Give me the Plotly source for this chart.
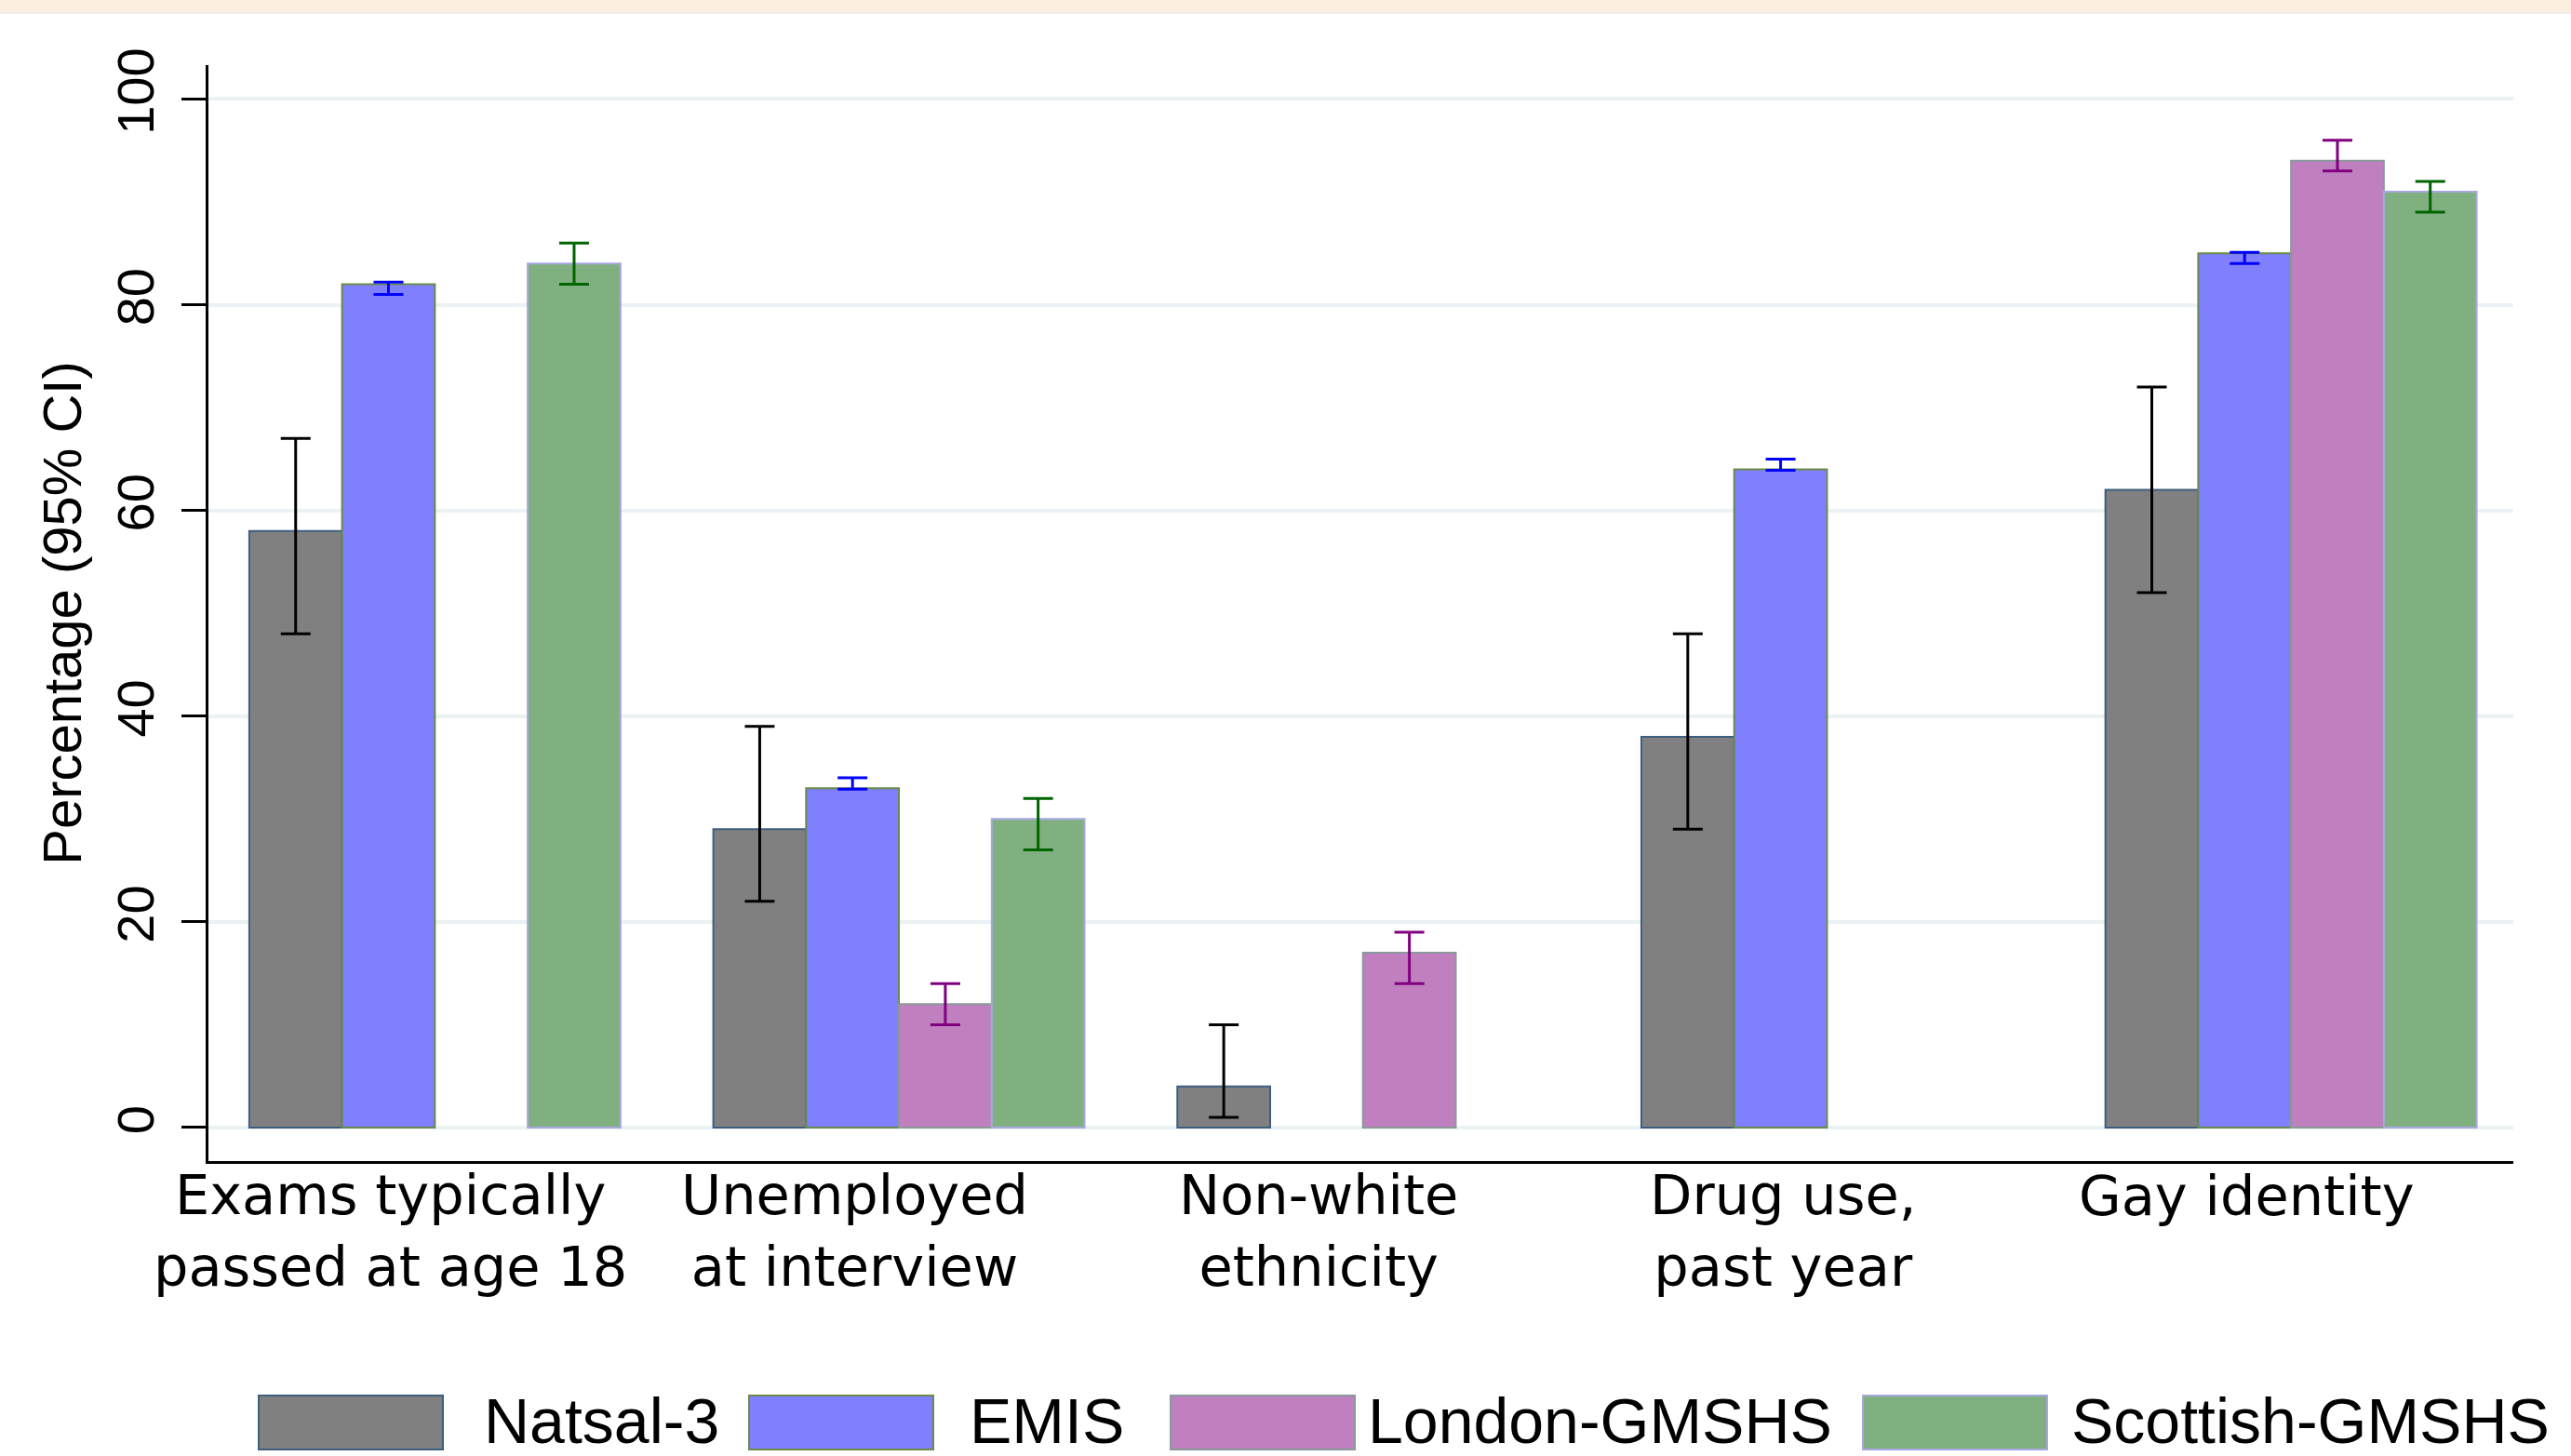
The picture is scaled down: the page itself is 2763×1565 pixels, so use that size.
import plotly.graph_objects as go

# ---------------- data ----------------
cat_line1 = ["Exams typically", "Unemployed", "Non-white", "Drug use,", "Gay identity"]
cat_line2 = ["passed at age 18", "at interview", "ethnicity", "past year", ""]
categories = [(a + " " + b).strip() for a, b in zip(cat_line1, cat_line2)]

series_names = ["Natsal-3", "EMIS", "London-GMSHS", "Scottish-GMSHS"]

natsal = [58, 29, 4, 38, 62]
natsal_lo = [48, 22, 1, 29, 52]
natsal_hi = [67, 39, 10, 48, 72]

emis = [82, 33, None, 64, 85]
emis_lo = [81, 32.9, None, 63.9, 84]
emis_hi = [82.2, 34, None, 65, 85.1]

london = [None, 12, 17, None, 94]
london_lo = [None, 10, 14, None, 93]
london_hi = [None, 14, 19, None, 96]

scottish = [84, 30, None, None, 91]
scottish_lo = [82, 27, None, None, 89]
scottish_hi = [86, 32, None, None, 92]

y_ticks = [0, 20, 40, 60, 80, 100]

# ---------------- styles ----------------
fills = ["#808080", "#8080FF", "#C080C0", "#80B080"]
outlines = ["#3E5E80", "#6A8A4A", "#8A9A9A", "#A8A8E0"]
err_colors = ["#000000", "#0000FF", "#800080", "#006400"]
FONT = "Liberation Sans, Arial, sans-serif"
WIDE_FONT = "DejaVu Sans, Verdana, sans-serif"

W, H = 2763, 1565
L, R, T, B = 224, 62, 70, 317
PW, PH = W - L - R, H - T - B


def px_x(px):
    return (px - L) / PW


def px_y(py):
    return (H - B - py) / PH


def err(vals, lo, hi):
    plus = [None if v is None else h - v for v, h in zip(vals, hi)]
    minus = [None if v is None else v - l for v, l in zip(vals, lo)]
    return plus, minus


fig = go.Figure()
all_series = [
    (natsal, natsal_lo, natsal_hi),
    (emis, emis_lo, emis_hi),
    (london, london_lo, london_hi),
    (scottish, scottish_lo, scottish_hi),
]
for k, (vals, lo, hi) in enumerate(all_series):
    plus, minus = err(vals, lo, hi)
    fig.add_trace(go.Bar(
        name=series_names[k],
        x=categories,
        y=vals,
        marker=dict(color=fills[k], line=dict(color=outlines[k], width=2)),
        error_y=dict(type="data", symmetric=False, array=plus, arrayminus=minus,
                     color=err_colors[k], thickness=3, width=16),
        showlegend=False,
    ))

annotations = []
# category labels (wrapped onto two lines)
for i, (a, b) in enumerate(zip(cat_line1, cat_line2)):
    text = a + "<br>" + b if b else a
    ypos = px_y(1323) if b else px_y(1285)
    annotations.append(dict(x=i - 0.095, y=ypos, xref="x", yref="paper",
                            text=text, showarrow=False, xanchor="center", yanchor="middle",
                            align="center",
                            font=dict(family=WIDE_FONT, size=59, color="black")))

# custom legend
shapes = []
sw_x0 = [278, 805, 1258, 2002]
txt_x0 = [518, 1040, 1468, 2224]
for k, name in enumerate(series_names):
    shapes.append(dict(type="rect", xref="paper", yref="paper",
                       x0=px_x(sw_x0[k]), x1=px_x(sw_x0[k] + 198),
                       y0=px_y(1558), y1=px_y(1500),
                       fillcolor=fills[k], line=dict(color=outlines[k], width=2)))
    annotations.append(dict(x=px_x(txt_x0[k]), y=px_y(1527), xref="paper", yref="paper",
                            text=name, showarrow=False, xanchor="left", yanchor="middle",
                            font=dict(family=FONT, size=68, color="black")))

# top peach band
shapes.append(dict(type="rect", xref="paper", yref="paper", x0=-0.2, x1=1.2,
                   y0=px_y(13), y1=px_y(-5), fillcolor="#FDEFE0", line=dict(width=0),
                   layer="below"))
shapes.append(dict(type="line", xref="paper", yref="paper", x0=-0.2, x1=1.2,
                   y0=px_y(14), y1=px_y(14), line=dict(color="#EEF0F0", width=2)))

fig.update_layout(
    width=W, height=H,
    margin=dict(l=L, r=R, t=T, b=B, autoexpand=False),
    paper_bgcolor="white", plot_bgcolor="white",
    barmode="group", bargap=0.2, bargroupgap=0,
    font=dict(family=FONT, color="black"),
    annotations=annotations, shapes=shapes,
    xaxis=dict(range=[-0.488, 4.479], showticklabels=False, ticks="",
               showgrid=False, zeroline=False, showline=True,
               linecolor="black", linewidth=3, fixedrange=True),
    yaxis=dict(range=[-3.26, 103.3], tickvals=y_ticks, ticktext=[str(t) for t in y_ticks],
               showgrid=True, gridcolor="#EAF2F3", gridwidth=4, zeroline=False,
               showline=True, linecolor="black", linewidth=3,
               ticks="outside", ticklen=26, tickwidth=3, tickcolor="black",
               tickangle=-90, tickfont=dict(family=FONT, size=56, color="black"),
               ticklabelstandoff=8,
               title=dict(text="Percentage (95% CI)", standoff=8,
                          font=dict(family=FONT, size=58, color="black")),
               automargin=False),
)

fig.write_html("out.html")
